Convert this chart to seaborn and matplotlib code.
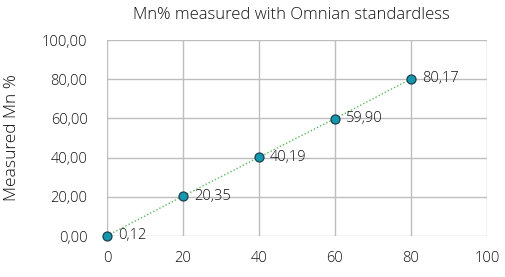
import pandas as pd
import matplotlib
matplotlib.use("Agg")
import matplotlib.pyplot as plt
import seaborn as sns

# Data
x_vals = [0, 20, 40, 60, 80]
y_vals = [0.12, 20.35, 40.19, 59.90, 80.17]
x_ticks = [0, 20, 40, 60, 80, 100]
y_ticks = [0, 20, 40, 60, 80, 100]

df = pd.DataFrame({'x': x_vals, 'y': y_vals})

sns.set_style("white")
plt.rcParams['font.family'] = ['Open Sans', 'DejaVu Sans']
plt.rcParams['font.weight'] = 'light'

fig = plt.figure(figsize=(5.06, 2.77), dpi=100)
ax = fig.add_axes([107 / 506, 41 / 277, 380 / 506, 196 / 277])

# dotted trend line through the points
sns.lineplot(data=df, x='x', y='y', ax=ax, color='#5cb85c', linestyle=(0, (1, 1.5)),
             linewidth=1.0, zorder=2)
sns.scatterplot(data=df, x='x', y='y', ax=ax, color='#1597ad', edgecolor='#1c3f4f',
                linewidth=0.9, s=42, zorder=3)
for c in ax.collections:
    c.set_clip_on(False)

for xv, yv in zip(x_vals, y_vals):
    ax.annotate(f"{yv:.2f}".replace('.', ','), (xv, yv), xytext=(8, 0),
                textcoords='offset points', va='center', ha='left',
                fontsize=10.5, color='#111111', fontweight='light')

ax.set_xlim(0, 100)
ax.set_ylim(0, 100)
ax.set_xticks(x_ticks)
ax.set_yticks(y_ticks)
ax.set_yticklabels([f"{v:.2f}".replace('.', ',') for v in y_ticks])
ax.tick_params(axis='both', length=0, labelsize=10.5, colors='#111111')
ax.tick_params(axis='y', pad=14)
ax.tick_params(axis='x', pad=11)
ax.grid(True, color='#bdbdbd', linewidth=1.0)
for s in ax.spines.values():
    s.set_visible(False)
ax.set_axisbelow(True)

ax.set_xlabel('')
ax.set_ylabel('Measured Mn %', fontsize=12.5, color='#111111', fontweight='light')
ax.yaxis.set_label_coords(-(107 - 20) / 380, 0.5)
fig.text(291 / 506, 1 - 15 / 277, 'Mn% measured with Omnian standardless', ha='center',
         va='center', fontsize=12, color='#111111', fontweight='light')

fig.savefig('out.png', dpi=100)
